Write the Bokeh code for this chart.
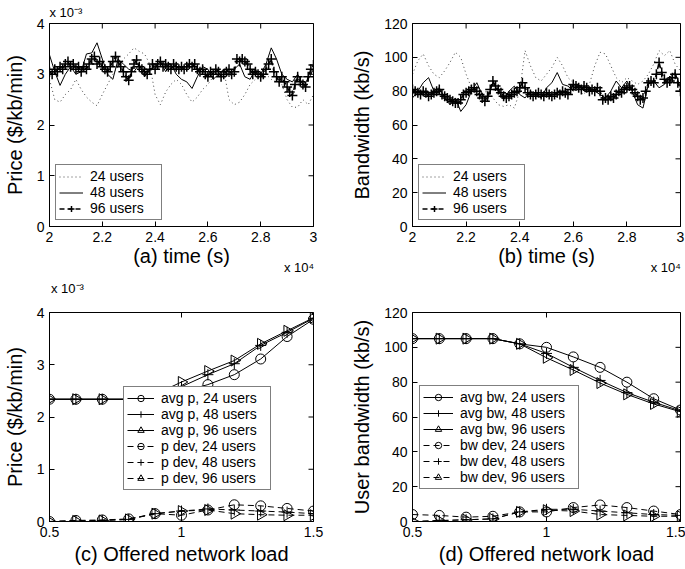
import numpy as np
from bokeh.plotting import figure
from bokeh.models import Range1d, FixedTicker, NumeralTickFormatter, LinearAxis
from bokeh.layouts import column, row
from bokeh.embed import file_html
from bokeh.resources import INLINE

FONT = "Liberation Sans"

# ---------------- data ----------------
# time axis in units of 1e4 s
t_fine = [round(2 + i * 0.01, 2) for i in range(101)]
t_coarse = [round(2 + i * 0.02, 2) for i in range(51)]

# (a) price, units of 1e-3 $/kb/min
price_24 = [2.90, 2.50, 2.45, 2.60, 2.70, 2.90, 2.70, 2.55, 2.45, 2.38,
            2.60, 2.80, 3.00, 3.15, 3.30, 3.40, 3.52, 3.45, 3.40, 3.20,
            2.60, 2.40, 2.65, 2.80, 2.90, 2.80, 2.60, 2.45, 2.55, 2.70,
            2.80, 2.95, 3.05, 3.10, 2.50, 2.40, 2.45, 2.60, 2.80, 2.90,
            2.95, 3.00, 2.90, 2.85, 2.80, 2.50, 2.35, 2.35, 2.50, 2.40, 2.60]
price_48 = [3.38, 3.05, 2.78, 3.00, 3.15, 3.00, 3.05, 3.40, 3.42, 3.62,
            3.30, 3.00, 2.90, 3.30, 3.20, 3.10, 3.05, 3.20, 2.95, 3.10,
            3.15, 3.25, 3.05, 3.20, 3.00, 2.90, 2.85, 2.72, 2.95, 3.15,
            3.10, 2.90, 3.00, 3.10, 2.95, 3.10, 3.20, 2.95, 2.90, 3.10,
            3.00, 3.20, 3.52, 3.30, 3.00, 2.90, 2.85, 3.00, 2.80, 2.90, 3.10]
price_96 = [3.05, 3.00, 3.10, 3.05, 3.15, 3.10, 3.20, 3.25, 3.15, 3.20,
            3.10, 3.15, 3.05, 3.15, 3.10, 3.20, 3.30, 3.35, 3.20, 3.25,
            3.15, 3.10, 3.05, 3.15, 3.25, 3.35, 3.25, 3.15, 3.05, 2.95,
            2.88, 3.05, 3.20, 3.28, 3.15, 3.10, 3.05, 3.00, 3.10, 3.20,
            3.10, 3.20, 3.25, 3.15, 3.20, 3.15, 3.10, 3.20, 3.15, 3.10,
            3.15, 3.10, 3.15, 3.20, 3.15, 3.20, 3.10, 3.05, 3.10, 3.00,
            2.95, 3.05, 3.00, 3.10, 3.05, 2.95, 3.00, 3.05, 3.10, 3.00,
            3.05, 3.30, 3.25, 3.30, 3.25, 3.20, 3.10, 3.00, 3.05, 3.00,
            2.95, 3.00, 3.10, 3.20, 3.30, 3.05, 2.95, 2.85, 2.95, 2.85,
            2.75, 2.65, 2.58, 2.80, 2.95, 2.85, 2.80, 2.75, 2.95, 3.10, 3.18]

# (b) bandwidth, kb/s
bw_24 = [90, 98, 102, 95, 90, 88, 92, 97, 103, 100,
         90, 82, 78, 79, 80, 76, 72, 71, 72, 70,
         80, 104, 95, 88, 86, 90, 94, 100, 95, 88,
         85, 80, 78, 84, 95, 103, 102, 95, 88, 85,
         88, 86, 84, 86, 90, 96, 104, 101, 104, 96, 92]
bw_48 = [76, 80, 85, 88, 80, 82, 76, 72, 76, 68,
         72, 80, 85, 78, 75, 85, 80, 75, 80, 83,
         78, 76, 80, 78, 76, 82, 85, 91, 84, 83,
         80, 84, 80, 82, 80, 78, 76, 80, 86, 82,
         86, 80, 72, 70, 84, 86, 82, 84, 88, 91, 82]
bw_96 = [81, 80, 79, 78, 80, 79, 77, 78, 79, 80,
         81, 78, 77, 76, 75, 74, 73, 73, 75, 78,
         79, 80, 81, 82, 80, 78, 76, 74, 77, 81,
         86, 83, 81, 79, 77, 76, 77, 78, 79, 80,
         82, 85, 82, 79, 78, 77, 78, 79, 78, 77,
         79, 78, 77, 78, 79, 78, 80, 79, 78, 81,
         84, 83, 82, 81, 83, 82, 80, 81, 80, 82,
         80, 75, 76, 75, 77, 76, 78, 80, 79, 81,
         82, 83, 81, 79, 77, 75, 76, 80, 85, 86,
         85, 90, 97, 91, 87, 85, 86, 88, 90, 85, 80]

# (c), (d) offered load
load = [0.5, 0.6, 0.7, 0.8, 0.9, 1.0, 1.1, 1.2, 1.3, 1.4, 1.5]
p_avg_24 = [2.34, 2.34, 2.34, 2.34, 2.38, 2.48, 2.62, 2.81, 3.11, 3.54, 3.87]
p_avg_48 = [2.34, 2.34, 2.34, 2.34, 2.40, 2.58, 2.81, 3.02, 3.37, 3.62, 3.89]
p_avg_96 = [2.34, 2.34, 2.34, 2.34, 2.43, 2.67, 2.88, 3.08, 3.40, 3.65, 3.90]
p_dev_24 = [0.00, 0.02, 0.03, 0.05, 0.15, 0.12, 0.22, 0.32, 0.30, 0.25, 0.20]
p_dev_48 = [0.00, 0.01, 0.02, 0.04, 0.15, 0.20, 0.24, 0.22, 0.20, 0.18, 0.15]
p_dev_96 = [0.00, 0.01, 0.02, 0.04, 0.15, 0.20, 0.22, 0.15, 0.13, 0.12, 0.12]

bw_avg_24 = [105, 105, 105, 105, 102, 100, 94.5, 88.5, 80, 70.5, 64]
bw_avg_48 = [105, 105, 105, 105, 102, 96.5, 88.5, 81, 74, 68.5, 63.5]
bw_avg_96 = [105, 105, 105, 105, 102, 94, 87, 79.5, 73, 67.5, 63]
bw_dev_24 = [4, 3.5, 2.5, 3, 5.5, 5.5, 8, 9.5, 8, 6, 4]
bw_dev_48 = [0, 0.5, 1, 1.5, 5.5, 7, 7, 6, 5, 4, 3.5]
bw_dev_96 = [0, 0.5, 1, 1.5, 5.5, 6.5, 6, 4, 3.5, 3, 3]

time_ticks = [2, 2.2, 2.4, 2.6, 2.8, 3]
load_ticks = [0.5, 1, 1.5]
price_ticks = [0, 1, 2, 3, 4]
bw_ticks = [0, 20, 40, 60, 80, 100, 120]
time_exp_text = "x 10\u2074"          # x 10^4
price_exp_text = "x 10\u207b\u00b3"   # x 10^-3


# ---------------- helpers ----------------
def style_axis(ax, ticks, label, tick_standoff, lab_standoff):
    ax.ticker = FixedTicker(ticks=ticks)
    ax.formatter = NumeralTickFormatter(format="0.[0]")
    ax.major_tick_in = 5
    ax.major_tick_out = 0
    ax.minor_tick_line_color = None
    ax.axis_line_color = "black"
    ax.major_tick_line_color = "black"
    ax.major_label_text_font = FONT
    ax.major_label_text_font_size = "14px"
    ax.major_label_text_color = "black"
    ax.major_label_standoff = tick_standoff
    ax.axis_label = label
    ax.axis_label_text_font = FONT
    ax.axis_label_text_font_size = "20px"
    ax.axis_label_text_font_style = "normal"
    ax.axis_label_text_color = "black"
    ax.axis_label_standoff = lab_standoff


def make_fig(w, h, xr, yr, xt, yt, mbl, mbr, mbt, mbb, xlabel, ylabel, x_lab_standoff):
    p = figure(width=w, height=h, x_range=Range1d(*xr), y_range=Range1d(*yr),
               output_backend="svg", toolbar_location=None,
               min_border_left=mbl, min_border_right=mbr,
               min_border_top=mbt, min_border_bottom=mbb)
    p.xgrid.visible = False
    p.ygrid.visible = False
    p.outline_line_color = "black"
    p.outline_line_alpha = 1
    p.outline_line_width = 1
    p.background_fill_color = "white"
    p.border_fill_color = "white"
    style_axis(p.xaxis[0], xt, xlabel, 5, x_lab_standoff)
    style_axis(p.yaxis[0], yt, ylabel, 5, 8)
    # inward ticks on the top and right edges (half of each dash is clipped by the frame)
    p.scatter(xt, [yr[1]] * len(xt), marker="dash", angle=np.pi / 2, size=10,
              line_color="black", line_width=1)
    p.scatter([xr[1]] * len(yt), yt, marker="dash", size=10,
              line_color="black", line_width=1)
    return p


def style_legend(p, loc, gw, lw):
    lg = p.legend[0]
    lg.location = loc
    lg.label_text_font = FONT
    lg.label_text_font_size = "14px"
    lg.label_text_color = "black"
    lg.border_line_color = "black"
    lg.border_line_width = 1.5
    lg.background_fill_color = "white"
    lg.background_fill_alpha = 1
    lg.padding = 3
    lg.spacing = 0
    lg.margin = 0
    lg.glyph_width = gw
    lg.glyph_height = 15
    lg.label_height = 15
    lg.label_width = lw
    lg.label_standoff = 7


def exp_title_above(p, text, standoff):
    p.title.text = text
    p.title.align = "left"
    p.title.vertical_align = "middle"
    p.title.standoff = standoff
    p.title.text_font = FONT
    p.title.text_font_size = "13px"
    p.title.text_font_style = "normal"
    p.title.text_color = "black"


def exp_axis(p, pos, text, side, standoff):
    # a tick-less extra axis carrying only a "x 10^n" multiplier
    ax = LinearAxis(ticker=FixedTicker(ticks=[pos]))
    ax.major_label_overrides = {pos: text}
    ax.major_tick_line_color = None
    ax.minor_tick_line_color = None
    ax.axis_line_color = None
    ax.major_label_standoff = standoff
    ax.major_label_text_font = FONT
    ax.major_label_text_font_size = "13px"
    ax.major_label_text_color = "black"
    p.add_layout(ax, side)


TOP_H, BOT_H = 277, 292
LEFT_W, RIGHT_W = 340, 345

# ---------------- (a) ----------------
pa = make_fig(LEFT_W, TOP_H, (2, 3), (0, 4), time_ticks, price_ticks,
              47, 27, 23, 44, "(a) time (s)", "Price ($/kb/min)", 0)
pa.line(t_coarse, price_24, line_color="#444444", line_width=1, line_dash="1 3",
        legend_label="24 users")
pa.line(t_coarse, price_48, line_color="black", line_width=1, legend_label="48 users")
pa.line(t_fine, price_96, line_color="black", line_width=1.5, line_dash="5 3",
        legend_label="96 users")
pa.scatter(t_fine, price_96, marker="cross", size=10, line_color="black", line_width=1.5,
           legend_label="96 users")
style_legend(pa, (6, 6), 24, 68)
exp_title_above(pa, price_exp_text, 6)
exp_axis(pa, 2.945, time_exp_text, "below", -16)

# ---------------- (b) ----------------
pb = make_fig(RIGHT_W, TOP_H, (2, 3), (0, 120), time_ticks, bw_ticks,
              72, 5, 23, 44, "(b) time (s)", "Bandwidth (kb/s)", 0)
pb.line(t_coarse, bw_24, line_color="#444444", line_width=1, line_dash="1 3",
        legend_label="24 users")
pb.line(t_coarse, bw_48, line_color="black", line_width=1, legend_label="48 users")
pb.line(t_fine, bw_96, line_color="black", line_width=1.5, line_dash="5 3",
        legend_label="96 users")
pb.scatter(t_fine, bw_96, marker="cross", size=10, line_color="black", line_width=1.5,
           legend_label="96 users")
style_legend(pb, (6, 6), 24, 68)
exp_axis(pb, 2.945, time_exp_text, "below", -16)


def series(p, x, y, marker, label, dashed):
    kw = dict(line_dash="6 4") if dashed else {}
    p.line(x, y, line_color="black", line_width=1, legend_label=label, **kw)
    if marker == "triangle":
        p.scatter(x, y, marker="triangle", size=11, angle=-np.pi / 2,
                  fill_color=None, line_color="black", line_width=1, legend_label=label)
    elif marker == "cross":
        p.scatter(x, y, marker="cross", size=11, line_color="black", line_width=1,
                  legend_label=label)
    else:
        p.scatter(x, y, marker="circle", size=10, fill_color=None,
                  line_color="black", line_width=1, legend_label=label)


# ---------------- (c) ----------------
pc = make_fig(LEFT_W, BOT_H, (0.5, 1.5), (0, 4), load_ticks, price_ticks,
              47, 27, 35, 48, "(c) Offered network load", "Price ($/kb/min)", 3)
series(pc, load, p_avg_24, "circle", "avg p, 24 users", False)
series(pc, load, p_avg_48, "cross", "avg p, 48 users", False)
series(pc, load, p_avg_96, "triangle", "avg p, 96 users", False)
series(pc, load, p_dev_24, "circle", "p dev, 24 users", True)
series(pc, load, p_dev_48, "cross", "p dev, 48 users", True)
series(pc, load, p_dev_96, "triangle", "p dev, 96 users", True)
style_legend(pc, (74, 31), 27, 106)
pc.legend[0].label_height = 16
pc.legend[0].glyph_height = 16
exp_axis(pc, 0.568, price_exp_text, "above", 11)

# ---------------- (d) ----------------
pd_ = make_fig(RIGHT_W, BOT_H, (0.5, 1.5), (0, 120), load_ticks, bw_ticks,
               72, 5, 35, 48, "(d) Offered network load", "User bandwidth (kb/s)", 3)
series(pd_, load, bw_avg_24, "circle", "avg bw, 24 users", False)
series(pd_, load, bw_avg_48, "cross", "avg bw, 48 users", False)
series(pd_, load, bw_avg_96, "triangle", "avg bw, 96 users", False)
series(pd_, load, bw_dev_24, "circle", "bw dev, 24 users", True)
series(pd_, load, bw_dev_48, "cross", "bw dev, 48 users", True)
series(pd_, load, bw_dev_96, "triangle", "bw dev, 96 users", True)
style_legend(pd_, (7, 32), 30, 115)
pd_.legend[0].label_height = 16
pd_.legend[0].glyph_height = 16

layout = column(row(pa, pb), row(pc, pd_))
open("out.html", "w").write(file_html(layout, INLINE))
